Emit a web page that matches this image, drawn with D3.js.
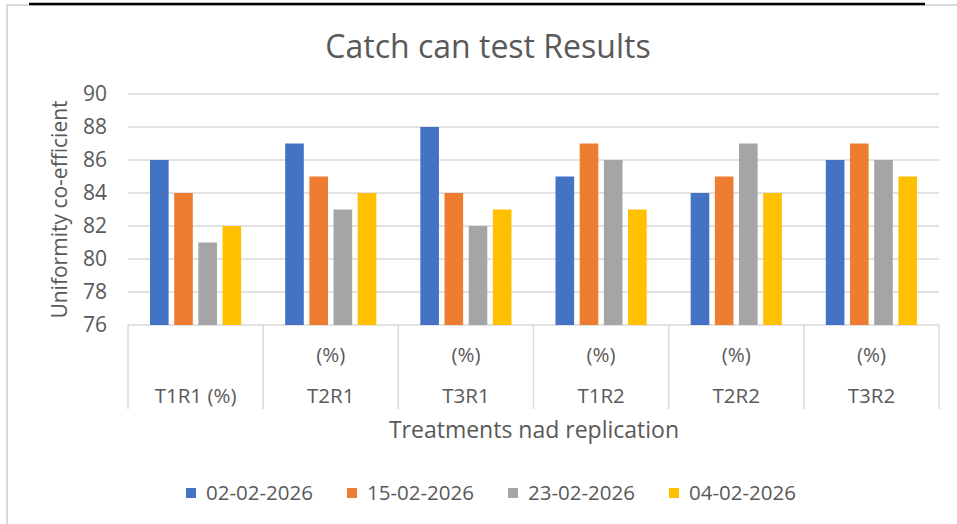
<!DOCTYPE html>
<html>
<head>
<meta charset="utf-8">
<script src="https://cdn.jsdelivr.net/npm/d3@7"></script>
<style>
  body { margin: 0; background: #fff; }
  text { font-family: "Open Sans", Lato, sans-serif; fill: #595959; }
</style>
</head>
<body>
<div id="chart"></div>
<script>
// data
var categories = ["T1R1 (%)", "T2R1", "T3R1", "T1R2", "T2R2", "T3R2"];
var innerLabels = ["", "(%)", "(%)", "(%)", "(%)", "(%)"];
var series = ["02-02-2026", "15-02-2026", "23-02-2026", "04-02-2026"];
var s1 = [86, 87, 88, 85, 84, 86];
var s2 = [84, 85, 84, 87, 85, 87];
var s3 = [81, 83, 82, 86, 87, 86];
var s4 = [82, 84, 83, 83, 84, 85];
var yTicks = [76, 78, 80, 82, 84, 86, 88, 90];
var colors = ["#4472C4", "#ED7D31", "#A5A5A5", "#FFC000"];

var values = [s1, s2, s3, s4];
var W = 957, H = 524;
var plot = {left: 128, right: 939, top: 94, bottom: 325, axisBottom: 409};

var svg = d3.select("#chart").append("svg")
    .attr("width", W)
    .attr("height", H);

svg.append("rect").attr("width", W).attr("height", H).attr("fill", "#fff");

// chart border (left + top) and black line at top
svg.append("line").attr("x1", 7).attr("x2", 7).attr("y1", 4).attr("y2", H)
   .attr("stroke", "#d9d9d9").attr("stroke-width", 2);
svg.append("line").attr("x1", 6).attr("x2", W).attr("y1", 5).attr("y2", 5)
   .attr("stroke", "#d9d9d9").attr("stroke-width", 2);
svg.append("line").attr("x1", 29).attr("x2", 925).attr("y1", 4).attr("y2", 4)
   .attr("stroke", "#000").attr("stroke-width", 2.5);

// scales
var y = d3.scaleLinear().domain([76, 90]).range([plot.bottom, plot.top]);
var x0 = d3.scaleBand().domain(categories).range([plot.left, plot.right]);
var x1 = d3.scaleBand().domain(series)
    .range([22, x0.bandwidth() - 22]).paddingInner(0.23);

// gridlines
svg.append("g").selectAll("line").data(yTicks).enter().append("line")
   .attr("x1", plot.left).attr("x2", plot.right)
   .attr("y1", function(d){ return y(d); })
   .attr("y2", function(d){ return y(d); })
   .attr("stroke", "#d9d9d9").attr("stroke-width", 1.5);

// y tick labels
svg.append("g").selectAll("text").data(yTicks).enter().append("text")
   .attr("x", 107)
   .attr("y", function(d){ return y(d); })
   .attr("dy", "0.35em")
   .attr("text-anchor", "end")
   .style("font-size", "21px")
   .text(function(d){ return d; });

// bars
categories.forEach(function(cat, i){
  var g = svg.append("g").attr("transform", "translate(" + x0(cat) + ",0)");
  series.forEach(function(s, j){
    g.append("rect")
     .attr("x", x1(s))
     .attr("width", x1.bandwidth())
     .attr("y", y(values[j][i]))
     .attr("height", y(76) - y(values[j][i]))
     .attr("fill", colors[j]);
  });
});

// category axis boxes
var bounds = categories.map(function(c){ return x0(c); }).concat([plot.right]);
svg.append("g").selectAll("line").data(bounds).enter().append("line")
   .attr("x1", function(d){ return d; }).attr("x2", function(d){ return d; })
   .attr("y1", plot.bottom).attr("y2", plot.axisBottom)
   .attr("stroke", "#d9d9d9").attr("stroke-width", 1.5);

svg.append("g").selectAll("text").data(categories).enter().append("text")
   .attr("x", function(d){ return x0(d) + x0.bandwidth() / 2; })
   .attr("y", 396)
   .attr("dy", "0.35em")
   .attr("text-anchor", "middle")
   .style("font-size", "20.5px")
   .text(function(d){ return d; });

svg.append("g").selectAll("text").data(innerLabels).enter().append("text")
   .attr("x", function(d, i){ return x0(categories[i]) + x0.bandwidth() / 2; })
   .attr("y", 355)
   .attr("dy", "0.35em")
   .attr("text-anchor", "middle")
   .style("font-size", "20.5px")
   .text(function(d){ return d; });

// titles
svg.append("text")
   .attr("x", 488).attr("y", 47).attr("dy", "0.35em")
   .attr("text-anchor", "middle")
   .style("font-size", "32px")
   .text("Catch can test Results");

svg.append("text")
   .attr("transform", "translate(60," + ((plot.top + plot.bottom) / 2) + ") rotate(-90)")
   .attr("dy", "0.35em")
   .attr("text-anchor", "middle")
   .style("font-size", "21px")
   .text("Uniformity co-efficient");

svg.append("text")
   .attr("x", 534).attr("y", 430).attr("dy", "0.35em")
   .attr("text-anchor", "middle")
   .style("font-size", "23px")
   .text("Treatments nad replication");

// legend
var legend = svg.append("g").selectAll("g").data(series).enter().append("g")
   .attr("transform", function(d, i){ return "translate(" + (186 + i * 161) + ",493)"; });
legend.append("rect")
   .attr("x", 0).attr("y", -5).attr("width", 10).attr("height", 10)
   .attr("fill", function(d, i){ return colors[i]; });
legend.append("text")
   .attr("x", 20).attr("dy", "0.35em")
   .style("font-size", "20.5px")
   .text(function(d){ return d; });
</script>
</body>
</html>
